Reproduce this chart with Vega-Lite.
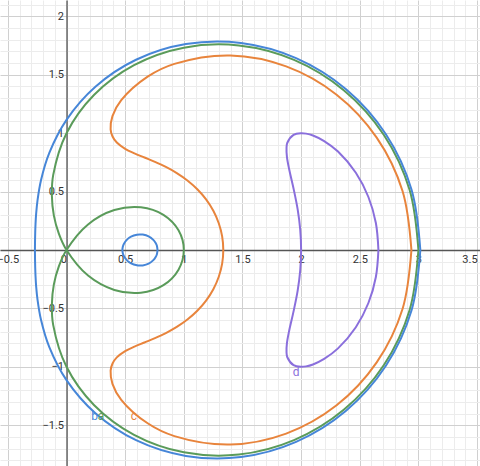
{
  "$schema": "https://vega.github.io/schema/vega-lite/v6.json",
  "width": 480,
  "height": 466,
  "padding": 0,
  "autosize": {"type": "none"},
  "config": {"view": {"stroke": null}, "font": "Roboto"},
  "resolve": {"axis": {"x": "independent", "y": "independent"}},
  "layer": [
    {
      "data": {"values": [
        {"c":"a","p":"a","i":0,"x":3,"y":0},{"c":"a","p":"a","i":1,"x":2.9245,"y":0.5155},{"c":"a","p":"a","i":2,"x":2.7058,"y":0.9848},{"c":"a","p":"a","i":3,"x":2.366,"y":1.366},{"c":"a","p":"a","i":4,"x":1.9396,"y":1.6276},{"c":"a","p":"a","i":5,"x":1.4692,"y":1.7508},{"c":"a","p":"a","i":6,"x":1,"y":1.7321},{"c":"a","p":"a","i":7,"x":0.5759,"y":1.5825},{"c":"a","p":"a","i":8,"x":0.2339,"y":1.3268},{"c":"a","p":"a","i":9,"x":0,"y":1},{"c":"a","p":"a","i":10,"x":-0.1133,"y":0.6428},{"c":"a","p":"a","i":11,"x":-0.1248,"y":0.466},{"c":"a","p":"a","i":12,"x":-0.1081,"y":0.2969},{"c":"a","p":"a","i":13,"x":-0.0654,"y":0.1403},{"c":"a","p":"a","i":14,"x":0,"y":0},{"c":"a","p":"a","i":15,"x":0.1836,"y":-0.2188},{"c":"a","p":"a","i":16,"x":0.4076,"y":-0.342},{"c":"a","p":"a","i":17,"x":0.634,"y":-0.366},{"c":"a","p":"a","i":18,"x":0.8264,"y":-0.3008},{"c":"a","p":"a","i":19,"x":0.9549,"y":-0.1683},{"c":"a","p":"a","i":20,"x":1,"y":0},{"c":"a","p":"a","i":21,"x":0.9549,"y":0.1683},{"c":"a","p":"a","i":22,"x":0.8264,"y":0.3008},{"c":"a","p":"a","i":23,"x":0.634,"y":0.366},{"c":"a","p":"a","i":24,"x":0.4076,"y":0.342},{"c":"a","p":"a","i":25,"x":0.1836,"y":0.2188},{"c":"a","p":"a","i":26,"x":0,"y":0},{"c":"a","p":"a","i":27,"x":-0.0654,"y":-0.1403},{"c":"a","p":"a","i":28,"x":-0.1081,"y":-0.2969},{"c":"a","p":"a","i":29,"x":-0.1248,"y":-0.466},{"c":"a","p":"a","i":30,"x":-0.1133,"y":-0.6428},{"c":"a","p":"a","i":31,"x":0,"y":-1},{"c":"a","p":"a","i":32,"x":0.2339,"y":-1.3268},{"c":"a","p":"a","i":33,"x":0.5759,"y":-1.5825},{"c":"a","p":"a","i":34,"x":1,"y":-1.7321},{"c":"a","p":"a","i":35,"x":1.4692,"y":-1.7508},{"c":"a","p":"a","i":36,"x":1.9396,"y":-1.6276},{"c":"a","p":"a","i":37,"x":2.366,"y":-1.366},{"c":"a","p":"a","i":38,"x":2.7058,"y":-0.9848},{"c":"a","p":"a","i":39,"x":2.9245,"y":-0.5155},{"c":"a","p":"a","i":40,"x":3,"y":0},

        {"c":"b","p":"b1","i":0,"x":3.0164,"y":0},{"c":"b","p":"b1","i":1,"x":2.9409,"y":0.5184},{"c":"b","p":"b1","i":2,"x":2.7226,"y":0.9909},{"c":"b","p":"b1","i":3,"x":2.383,"y":1.3759},{"c":"b","p":"b1","i":4,"x":1.957,"y":1.6422},{"c":"b","p":"b1","i":5,"x":1.487,"y":1.772},{"c":"b","p":"b1","i":6,"x":1.0178,"y":1.7628},{"c":"b","p":"b1","i":7,"x":0.5926,"y":1.6283},{"c":"b","p":"b1","i":8,"x":0.2464,"y":1.3976},{"c":"b","p":"b1","i":9,"x":0,"y":1.1143},{"c":"b","p":"b1","i":10,"x":-0.1466,"y":0.8317},{"c":"b","p":"b1","i":11,"x":-0.2175,"y":0.5977},{"c":"b","p":"b1","i":12,"x":-0.2469,"y":0.4276},{"c":"b","p":"b1","i":13,"x":-0.259,"y":0.3086},{"c":"b","p":"b1","i":14,"x":-0.2642,"y":0.2217},{"c":"b","p":"b1","i":15,"x":-0.2667,"y":0.154},{"c":"b","p":"b1","i":16,"x":-0.268,"y":0.0975},{"c":"b","p":"b1","i":17,"x":-0.2688,"y":0.0474},{"c":"b","p":"b1","i":18,"x":-0.269,"y":0},{"c":"b","p":"b1","i":19,"x":-0.2688,"y":-0.0474},{"c":"b","p":"b1","i":20,"x":-0.268,"y":-0.0975},{"c":"b","p":"b1","i":21,"x":-0.2667,"y":-0.154},{"c":"b","p":"b1","i":22,"x":-0.2642,"y":-0.2217},{"c":"b","p":"b1","i":23,"x":-0.259,"y":-0.3086},{"c":"b","p":"b1","i":24,"x":-0.2469,"y":-0.4276},{"c":"b","p":"b1","i":25,"x":-0.2175,"y":-0.5977},{"c":"b","p":"b1","i":26,"x":-0.1466,"y":-0.8317},{"c":"b","p":"b1","i":27,"x":0,"y":-1.1143},{"c":"b","p":"b1","i":28,"x":0.2464,"y":-1.3976},{"c":"b","p":"b1","i":29,"x":0.5926,"y":-1.6283},{"c":"b","p":"b1","i":30,"x":1.0178,"y":-1.7628},{"c":"b","p":"b1","i":31,"x":1.487,"y":-1.772},{"c":"b","p":"b1","i":32,"x":1.957,"y":-1.6422},{"c":"b","p":"b1","i":33,"x":2.383,"y":-1.3759},{"c":"b","p":"b1","i":34,"x":2.7226,"y":-0.9909},{"c":"b","p":"b1","i":35,"x":2.9409,"y":-0.5184},{"c":"b","p":"b1","i":36,"x":3.0164,"y":0},

        {"c":"b","p":"b2","i":0,"x":0.776,"y":0},{"c":"b","p":"b2","i":1,"x":0.77,"y":0.038},{"c":"b","p":"b2","i":2,"x":0.76,"y":0.06},{"c":"b","p":"b2","i":3,"x":0.74,"y":0.087},{"c":"b","p":"b2","i":4,"x":0.7,"y":0.117},{"c":"b","p":"b2","i":5,"x":0.65,"y":0.132},{"c":"b","p":"b2","i":6,"x":0.626,"y":0.133},{"c":"b","p":"b2","i":7,"x":0.6,"y":0.131},{"c":"b","p":"b2","i":8,"x":0.55,"y":0.114},{"c":"b","p":"b2","i":9,"x":0.52,"y":0.093},{"c":"b","p":"b2","i":10,"x":0.49,"y":0.054},{"c":"b","p":"b2","i":11,"x":0.48,"y":0.028},{"c":"b","p":"b2","i":12,"x":0.4765,"y":0},{"c":"b","p":"b2","i":13,"x":0.48,"y":-0.028},{"c":"b","p":"b2","i":14,"x":0.49,"y":-0.054},{"c":"b","p":"b2","i":15,"x":0.52,"y":-0.093},{"c":"b","p":"b2","i":16,"x":0.55,"y":-0.114},{"c":"b","p":"b2","i":17,"x":0.6,"y":-0.131},{"c":"b","p":"b2","i":18,"x":0.626,"y":-0.133},{"c":"b","p":"b2","i":19,"x":0.65,"y":-0.132},{"c":"b","p":"b2","i":20,"x":0.7,"y":-0.117},{"c":"b","p":"b2","i":21,"x":0.74,"y":-0.087},{"c":"b","p":"b2","i":22,"x":0.76,"y":-0.06},{"c":"b","p":"b2","i":23,"x":0.77,"y":-0.038},{"c":"b","p":"b2","i":24,"x":0.776,"y":0},

        {"c":"c","p":"c","i":0,"x":2.9404,"y":0},{"c":"c","p":"c","i":1,"x":2.8645,"y":0.505},{"c":"c","p":"c","i":2,"x":2.6444,"y":0.9624},{"c":"c","p":"c","i":3,"x":2.3024,"y":1.3294},{"c":"c","p":"c","i":4,"x":1.8726,"y":1.5714},{"c":"c","p":"c","i":5,"x":1.3971,"y":1.6648},{"c":"c","p":"c","i":6,"x":0.9197,"y":1.5929},{"c":"c","p":"c","i":7,"x":0.6917,"y":1.4834},{"c":"c","p":"c","i":8,"x":0.4666,"y":1.282},{"c":"c","p":"c","i":9,"x":0.3917,"y":1.1457},{"c":"c","p":"c","i":10,"x":0.376,"y":1.033},{"c":"c","p":"c","i":11,"x":0.3925,"y":0.9715},{"c":"c","p":"c","i":12,"x":0.4288,"y":0.9196},{"c":"c","p":"c","i":13,"x":0.5,"y":0.866},{"c":"c","p":"c","i":14,"x":0.5791,"y":0.8271},{"c":"c","p":"c","i":15,"x":0.6643,"y":0.7916},{"c":"c","p":"c","i":16,"x":0.7541,"y":0.7541},{"c":"c","p":"c","i":17,"x":0.8469,"y":0.7107},{"c":"c","p":"c","i":18,"x":0.9401,"y":0.6583},{"c":"c","p":"c","i":19,"x":1.0305,"y":0.595},{"c":"c","p":"c","i":20,"x":1.115,"y":0.5199},{"c":"c","p":"c","i":21,"x":1.1898,"y":0.433},{"c":"c","p":"c","i":22,"x":1.2517,"y":0.3354},{"c":"c","p":"c","i":23,"x":1.298,"y":0.2288},{"c":"c","p":"c","i":24,"x":1.3268,"y":0.1161},{"c":"c","p":"c","i":25,"x":1.3365,"y":0},{"c":"c","p":"c","i":26,"x":1.3268,"y":-0.1161},{"c":"c","p":"c","i":27,"x":1.298,"y":-0.2288},{"c":"c","p":"c","i":28,"x":1.2517,"y":-0.3354},{"c":"c","p":"c","i":29,"x":1.1898,"y":-0.433},{"c":"c","p":"c","i":30,"x":1.115,"y":-0.5199},{"c":"c","p":"c","i":31,"x":1.0305,"y":-0.595},{"c":"c","p":"c","i":32,"x":0.9401,"y":-0.6583},{"c":"c","p":"c","i":33,"x":0.8469,"y":-0.7107},{"c":"c","p":"c","i":34,"x":0.7541,"y":-0.7541},{"c":"c","p":"c","i":35,"x":0.6643,"y":-0.7916},{"c":"c","p":"c","i":36,"x":0.5791,"y":-0.8271},{"c":"c","p":"c","i":37,"x":0.5,"y":-0.866},{"c":"c","p":"c","i":38,"x":0.4288,"y":-0.9196},{"c":"c","p":"c","i":39,"x":0.3925,"y":-0.9715},{"c":"c","p":"c","i":40,"x":0.376,"y":-1.033},{"c":"c","p":"c","i":41,"x":0.3917,"y":-1.1457},{"c":"c","p":"c","i":42,"x":0.4666,"y":-1.282},{"c":"c","p":"c","i":43,"x":0.6917,"y":-1.4834},{"c":"c","p":"c","i":44,"x":0.9197,"y":-1.5929},{"c":"c","p":"c","i":45,"x":1.3971,"y":-1.6648},{"c":"c","p":"c","i":46,"x":1.8726,"y":-1.5714},{"c":"c","p":"c","i":47,"x":2.3024,"y":-1.3294},{"c":"c","p":"c","i":48,"x":2.6444,"y":-0.9624},{"c":"c","p":"c","i":49,"x":2.8645,"y":-0.505},{"c":"c","p":"c","i":50,"x":2.9404,"y":0},

        {"c":"d","p":"d","i":0,"x":2.659,"y":0},{"c":"d","p":"d","i":1,"x":2.6373,"y":0.2308},{"c":"d","p":"d","i":2,"x":2.5736,"y":0.4537},{"c":"d","p":"d","i":3,"x":2.4665,"y":0.6609},{"c":"d","p":"d","i":4,"x":2.3145,"y":0.8423},{"c":"d","p":"d","i":5,"x":2.1963,"y":0.9322},{"c":"d","p":"d","i":6,"x":2.1011,"y":0.9797},{"c":"d","p":"d","i":7,"x":2.0423,"y":0.9961},{"c":"d","p":"d","i":8,"x":2,"y":1},{"c":"d","p":"d","i":9,"x":1.9355,"y":0.9861},{"c":"d","p":"d","i":10,"x":1.8825,"y":0.9182},{"c":"d","p":"d","i":11,"x":1.8756,"y":0.8746},{"c":"d","p":"d","i":12,"x":1.8791,"y":0.7976},{"c":"d","p":"d","i":13,"x":1.8982,"y":0.6908},{"c":"d","p":"d","i":14,"x":1.937,"y":0.519},{"c":"d","p":"d","i":15,"x":1.9706,"y":0.3474},{"c":"d","p":"d","i":16,"x":1.9924,"y":0.1743},{"c":"d","p":"d","i":17,"x":2,"y":0},{"c":"d","p":"d","i":18,"x":1.9924,"y":-0.1743},{"c":"d","p":"d","i":19,"x":1.9706,"y":-0.3474},{"c":"d","p":"d","i":20,"x":1.937,"y":-0.519},{"c":"d","p":"d","i":21,"x":1.8982,"y":-0.6908},{"c":"d","p":"d","i":22,"x":1.8791,"y":-0.7976},{"c":"d","p":"d","i":23,"x":1.8756,"y":-0.8746},{"c":"d","p":"d","i":24,"x":1.8825,"y":-0.9182},{"c":"d","p":"d","i":25,"x":1.9355,"y":-0.9861},{"c":"d","p":"d","i":26,"x":2,"y":-1},{"c":"d","p":"d","i":27,"x":2.0423,"y":-0.9961},{"c":"d","p":"d","i":28,"x":2.1011,"y":-0.9797},{"c":"d","p":"d","i":29,"x":2.1963,"y":-0.9322},{"c":"d","p":"d","i":30,"x":2.3145,"y":-0.8423},{"c":"d","p":"d","i":31,"x":2.4665,"y":-0.6609},{"c":"d","p":"d","i":32,"x":2.5736,"y":-0.4537},{"c":"d","p":"d","i":33,"x":2.6373,"y":-0.2308},{"c":"d","p":"d","i":34,"x":2.659,"y":0}
      ]},
      "mark": {"type": "line", "interpolate": "catmull-rom", "strokeWidth": 2, "clip": true},
      "encoding": {
        "x": {"field": "x", "type": "quantitative",
          "scale": {"domain": [-0.567, 3.525], "nice": false, "zero": false},
          "axis": {"orient": "top", "title": null, "grid": true, "gridColor": "#ececec", "gridWidth": 1, "labels": false, "ticks": false, "domain": false,
            "values": [-0.4,-0.3,-0.2,-0.1,0.1,0.2,0.3,0.4,0.6,0.7,0.8,0.9,1.1,1.2,1.3,1.4,1.6,1.7,1.8,1.9,2.1,2.2,2.3,2.4,2.6,2.7,2.8,2.9,3.1,3.2,3.3,3.4]}},
        "y": {"field": "y", "type": "quantitative",
          "scale": {"domain": [-1.849, 2.14], "nice": false, "zero": false},
          "axis": {"orient": "right", "title": null, "grid": true, "gridColor": "#ececec", "gridWidth": 1, "labels": false, "ticks": false, "domain": false,
            "values": [-1.8,-1.7,-1.6,-1.4,-1.3,-1.2,-1.1,-0.9,-0.8,-0.7,-0.6,-0.4,-0.3,-0.2,-0.1,0.1,0.2,0.3,0.4,0.6,0.7,0.8,0.9,1.1,1.2,1.3,1.4,1.6,1.7,1.8,1.9,2.1]}},
        "color": {"field": "c", "type": "nominal", "scale": {"domain": ["a","b","c","d"], "range": ["#5a9b5a","#4686d8","#e8843c","#8a6fdc"]}, "legend": null},
        "detail": {"field": "p"},
        "order": {"field": "i", "type": "quantitative"}
      }
    },
    {
      "data": {"values": [
        {"t":"b","c":"b","x":0.239,"y":-1.417},
        {"t":"a","c":"a","x":0.294,"y":-1.42},
        {"t":"c","c":"c","x":0.575,"y":-1.42},
        {"t":"d","c":"d","x":1.957,"y":-1.045}
      ]},
      "mark": {"type": "text", "fontSize": 12, "align": "center", "baseline": "middle"},
      "encoding": {
        "x": {"field": "x", "type": "quantitative",
          "scale": {"domain": [-0.567, 3.525], "nice": false, "zero": false},
          "axis": {"orient": "bottom", "offset": -216, "title": null, "grid": true, "gridColor": "#d0d0d0", "gridWidth": 1,
            "ticks": false, "domain": true, "domainColor": "#555555", "domainWidth": 1.3,
            "values": [-0.5,0,0.5,1,1.5,2,2.5,3,3.5], "format": "~g",
            "labelFontSize": 11, "labelColor": "#333333", "labelPadding": 3, "labelFlush": false, "labelOverlap": false, "labelBound": false,
            "labelAlign": {"condition": {"test": "datum.value === 0 || datum.value === 3.5", "value": "right"}, "value": "center"}}},
        "y": {"field": "y", "type": "quantitative",
          "scale": {"domain": [-1.849, 2.14], "nice": false, "zero": false},
          "axis": {"orient": "left", "offset": -66.5, "title": null, "grid": true, "gridColor": "#d0d0d0", "gridWidth": 1,
            "ticks": false, "domain": true, "domainColor": "#555555", "domainWidth": 1.3,
            "values": [-1.5,-1,-0.5,0,0.5,1,1.5,2], "format": "~g",
            "labelExpr": "datum.value === 0 ? '' : datum.label",
            "labelFontSize": 11, "labelColor": "#333333", "labelPadding": 3, "labelFlush": false, "labelOverlap": false, "labelBound": false}},
        "text": {"field": "t"},
        "color": {"field": "c", "type": "nominal", "scale": {"domain": ["a","b","c","d"], "range": ["#5a9b5a","#4686d8","#e8843c","#8a6fdc"]}, "legend": null}
      }
    }
  ]
}
